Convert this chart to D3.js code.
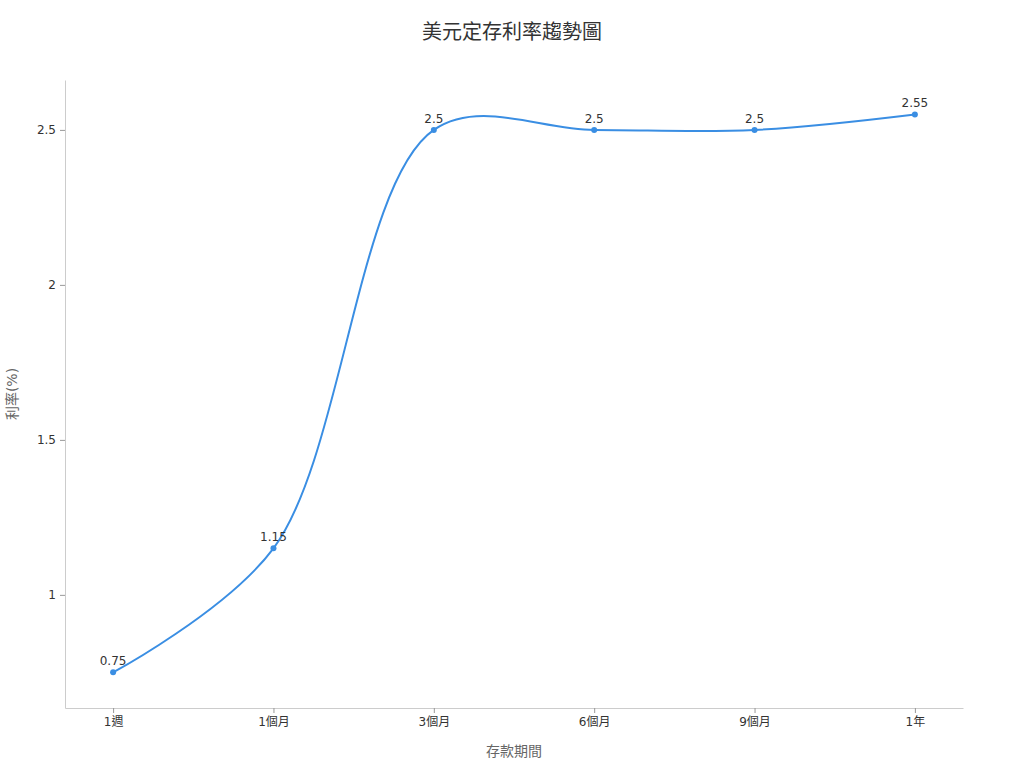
<!DOCTYPE html>
<html>
<head>
<meta charset="utf-8">
<script src="https://cdn.jsdelivr.net/npm/d3@7"></script>
<style>
  body { margin: 0; background: #fff; }
  svg text { font-family: "DejaVu Sans", "Noto Sans CJK TC", sans-serif; }
</style>
</head>
<body>
<div id="chart"></div>
<script>
const categories = ['1週', '1個月', '3個月', '6個月', '9個月', '1年'];
const rates = [0.75, 1.15, 2.5, 2.5, 2.5, 2.55];
const yTicks = [1, 1.5, 2, 2.5];

const width = 1024,
  height = 768;
const margin = { top: 80, right: 61, bottom: 60, left: 65 };
const lineColor = '#3a8ee3';

const svg = d3.select('#chart').append('svg')
  .attr('width', width)
  .attr('height', height);

const x = d3.scalePoint()
  .domain(categories)
  .range([margin.left, width - margin.right])
  .padding(0.3);

const y = d3.scaleLinear()
  .domain([0.635, 2.661])
  .range([height - margin.bottom, margin.top]);

// title
svg.append('text')
  .attr('x', width / 2)
  .attr('y', 39)
  .attr('text-anchor', 'middle')
  .style('font-family', '"Noto Sans CJK TC", sans-serif')
  .style('font-size', '20px')
  .style('fill', '#333')
  .text('美元定存利率趨勢圖');

// axes
let xAxis = svg.append('g')
  .attr('transform', 'translate(0,' + (height - margin.bottom) + ')')
  .call(d3.axisBottom(x).tickSize(5).tickPadding(4).tickSizeOuter(0));

let yAxis = svg.append('g')
  .attr('transform', 'translate(' + margin.left + ',0)')
  .call(d3.axisLeft(y).tickValues(yTicks).tickFormat(d => String(d))
    .tickSize(5).tickPadding(4).tickSizeOuter(0));

[xAxis, yAxis].forEach(ax => {
  ax.select('.domain').attr('stroke', '#ccc');
  ax.selectAll('.tick line').attr('stroke', '#999');
  ax.selectAll('.tick text')
    .style('font-size', '12px')
    .style('fill', '#333');
});

// axis names
svg.append('text')
  .attr('x', (margin.left + width - margin.right) / 2)
  .attr('y', 756)
  .attr('text-anchor', 'middle')
  .style('font-size', '14px')
  .style('fill', '#666')
  .text('存款期間');

svg.append('text')
  .attr('transform', 'translate(17,' + ((margin.top + height - margin.bottom) / 2) + ') rotate(-90)')
  .attr('text-anchor', 'middle')
  .style('font-size', '14px')
  .style('fill', '#666')
  .text('利率(%)');

// line
let line = d3.line()
  .x((d, i) => x(categories[i]))
  .y(d => y(d))
  .curve(d3.curveCatmullRom.alpha(0.5));

svg.append('path')
  .datum(rates)
  .attr('fill', 'none')
  .attr('stroke', lineColor)
  .attr('stroke-width', 2)
  .attr('d', line);

svg.append('g')
  .selectAll('circle')
  .data(rates)
  .enter().append('circle')
  .attr('cx', (d, i) => x(categories[i]))
  .attr('cy', d => y(d))
  .attr('r', 3)
  .attr('fill', lineColor);

svg.append('g')
  .selectAll('text')
  .data(rates)
  .enter().append('text')
  .attr('x', (d, i) => x(categories[i]))
  .attr('y', d => y(d) - 7)
  .attr('text-anchor', 'middle')
  .style('font-size', '12px')
  .style('fill', '#333')
  .text(d => d);
</script>
</body>
</html>
